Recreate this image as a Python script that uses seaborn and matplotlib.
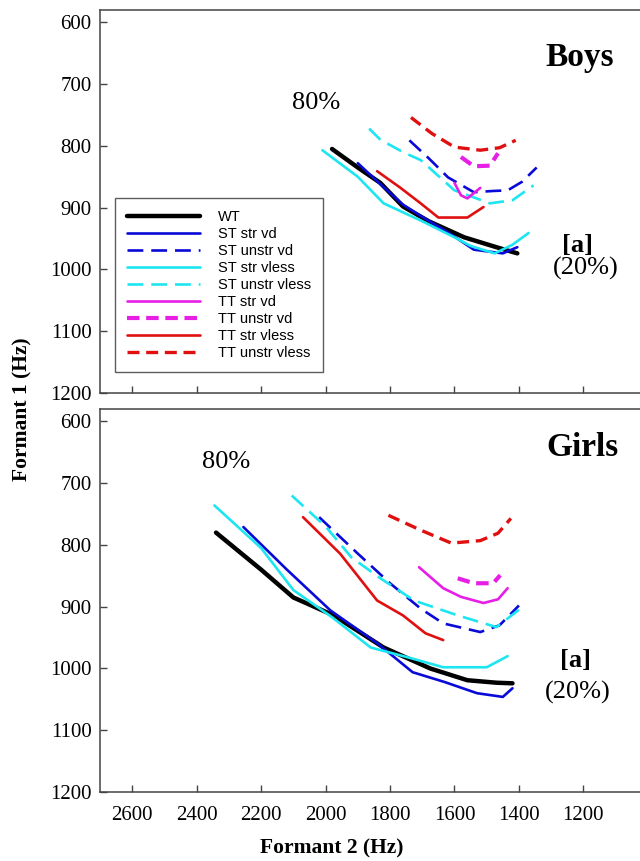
import numpy as np
import pandas as pd
import seaborn as sns
from matplotlib import pyplot as plt

# series names / styles order
names = ['WT', 'ST str vd', 'ST unstr vd', 'ST str vless', 'ST unstr vless',
         'TT str vd', 'TT unstr vd', 'TT str vless', 'TT unstr vless']

##boys (F2, F1) in Hz
boys_f2 = {
    'WT': [1980, 1900, 1830, 1760, 1680, 1570, 1470, 1405],
    'ST str vd': [1900, 1830, 1760, 1700, 1620, 1540, 1450, 1405],
    'ST unstr vd': [1740, 1680, 1620, 1540, 1480, 1435, 1390, 1345],
    'ST str vless': [2010, 1900, 1820, 1700, 1600, 1550, 1475, 1420, 1370],
    'ST unstr vless': [1865, 1830, 1760, 1705, 1600, 1490, 1420, 1355],
    'TT str vd': [1600, 1580, 1560, 1520],
    'TT unstr vd': [1580, 1540, 1490, 1465],
    'TT str vless': [1840, 1770, 1705, 1650, 1560, 1510],
    'TT unstr vless': [1735, 1670, 1600, 1520, 1460, 1410],
}
boys_f1 = {
    'WT': [805, 835, 860, 898, 922, 948, 964, 974],
    'ST str vd': [828, 862, 895, 915, 940, 968, 974, 964],
    'ST unstr vd': [791, 820, 851, 875, 873, 872, 858, 835],
    'ST str vless': [807, 850, 893, 922, 948, 962, 974, 960, 941],
    'ST unstr vless': [772, 790, 810, 823, 872, 893, 888, 864],
    'TT str vd': [860, 880, 885, 868],
    'TT unstr vd': [818, 833, 832, 812],
    'TT str vless': [841, 867, 893, 916, 916, 899],
    'TT unstr vless': [754, 780, 802, 807, 803, 791],
}

##girls
girls_f2 = {
    'WT': [2340, 2200, 2100, 1975, 1820, 1675, 1560, 1470, 1420],
    'ST str vd': [2255, 2120, 1985, 1840, 1730, 1630, 1530, 1450, 1420],
    'ST unstr vd': [2020, 1900, 1800, 1705, 1635, 1520, 1460, 1400],
    'ST str vless': [2345, 2200, 2100, 1980, 1860, 1730, 1635, 1500, 1435],
    'ST unstr vless': [2105, 2000, 1920, 1830, 1725, 1590, 1470, 1395],
    'TT str vd': [1710, 1635, 1580, 1510, 1465, 1435],
    'TT unstr vd': [1590, 1540, 1480, 1458],
    'TT str vless': [2070, 1955, 1840, 1760, 1690, 1635],
    'TT unstr vless': [1805, 1705, 1610, 1520, 1465, 1425],
}
girls_f1 = {
    'WT': [780, 840, 885, 914, 966, 1000, 1019, 1023, 1024],
    'ST str vd': [771, 840, 906, 959, 1006, 1022, 1040, 1046, 1032],
    'ST unstr vd': [755, 814, 862, 903, 927, 941, 930, 898],
    'ST str vless': [736, 805, 873, 917, 966, 984, 998, 998, 980],
    'ST unstr vless': [720, 770, 820, 854, 890, 914, 933, 903],
    'TT str vd': [836, 870, 884, 894, 888, 870],
    'TT unstr vd': [854, 862, 862, 849],
    'TT str vless': [755, 814, 890, 914, 943, 954],
    'TT unstr vless': [752, 776, 797, 793, 781, 757],
}

colors = {'WT': 'black', 'ST str vd': '#0a0ad8', 'ST unstr vd': '#0a0ad8',
          'ST str vless': '#1ee6f0', 'ST unstr vless': '#1ee6f0',
          'TT str vd': '#e61ee6', 'TT unstr vd': '#e61ee6',
          'TT str vless': '#e01010', 'TT unstr vless': '#e01010'}
widths = {'WT': 3.2, 'ST str vd': 1.9, 'ST unstr vd': 1.9, 'ST str vless': 1.9,
          'ST unstr vless': 1.9, 'TT str vd': 1.9, 'TT unstr vd': 3.0,
          'TT str vless': 1.9, 'TT unstr vless': 2.4}
dashes = {'ST unstr vd': (6, 3), 'ST unstr vless': (6, 3),
          'TT unstr vd': (3, 1.6), 'TT unstr vless': (3.6, 2)}

sns.set_style('white')
plt.rcParams['font.family'] = ['Liberation Serif', 'DejaVu Serif']
plt.rcParams['text.color'] = 'black'
plt.rcParams['xtick.color'] = '#444444'
plt.rcParams['ytick.color'] = '#444444'
plt.rcParams['xtick.labelcolor'] = 'black'
plt.rcParams['ytick.labelcolor'] = 'black'

fig = plt.figure(figsize=(6.4, 8.61), dpi=100)
ax1 = fig.add_axes([0.15625, 0.5436, 0.856, 0.4448])
ax2 = fig.add_axes([0.15625, 0.0801, 0.856, 0.4448])


def draw(ax, f2, f1):
    for n in names:
        df = pd.DataFrame({'F2': f2[n], 'F1': f1[n]})
        sns.lineplot(data=df, x='F2', y='F1', ax=ax, sort=False, estimator=None,
                     color=colors[n], linewidth=widths[n], label=n)
        if n in dashes:
            ax.lines[-1].set_dashes(dashes[n])


draw(ax1, boys_f2, boys_f1)
draw(ax2, girls_f2, girls_f1)

for ax in (ax1, ax2):
    ax.set_xlim(2700, 1000)
    ax.set_ylim(1200, 580)
    ax.set_xticks(np.arange(1200, 2601, 200))
    ax.set_yticks(np.arange(600, 1201, 100))
    ax.tick_params(direction='in', length=5, width=1, bottom=True, left=True,
                   labelsize=15, pad=6)
    ax.tick_params(axis='x', pad=10)
    for s in ax.spines.values():
        s.set_color('#444444')
        s.set_linewidth(1.1)
    ax.set_xlabel('')
    ax.set_ylabel('')

ax1.tick_params(labelbottom=False)
ax2.legend().remove()

leg = ax1.legend(loc='upper left', bbox_to_anchor=(0.027, 0.509), borderaxespad=0,
                 prop={'family': 'Liberation Sans', 'size': 10.5}, frameon=True,
                 fancybox=False, edgecolor='#333333', labelspacing=0.2,
                 handlelength=5.0, handletextpad=1.2, borderpad=0.85)
leg.get_frame().set_linewidth(1.0)
for t in leg.get_texts():
    t.set_color('black')

# annotations
ax1.text(2030, 731, '80%', fontsize=19, ha='center', va='center')
ax2.text(2309, 666, '80%', fontsize=19, ha='center', va='center')
ax1.text(1210, 657, 'Boys', fontsize=24, fontweight='bold', ha='center', va='center')
ax2.text(1204, 642, 'Girls', fontsize=24, fontweight='bold', ha='center', va='center')
ax1.text(1219, 961, '[a]', fontsize=19, fontweight='bold', ha='center', va='center')
ax1.text(1194, 998, '(20%)', fontsize=19, ha='center', va='center')
ax2.text(1225, 987, '[a]', fontsize=19, fontweight='bold', ha='center', va='center')
ax2.text(1219, 1039, '(20%)', fontsize=19, ha='center', va='center')

fig.text(0.035, 0.5245, 'Formant 1 (Hz)', rotation=90, fontsize=15.5,
         fontweight='bold', ha='center', va='center')
fig.text(0.519, 0.014, 'Formant 2 (Hz)', fontsize=15.5, fontweight='bold',
         ha='center', va='center')

plt.savefig('out.png', dpi=100)
